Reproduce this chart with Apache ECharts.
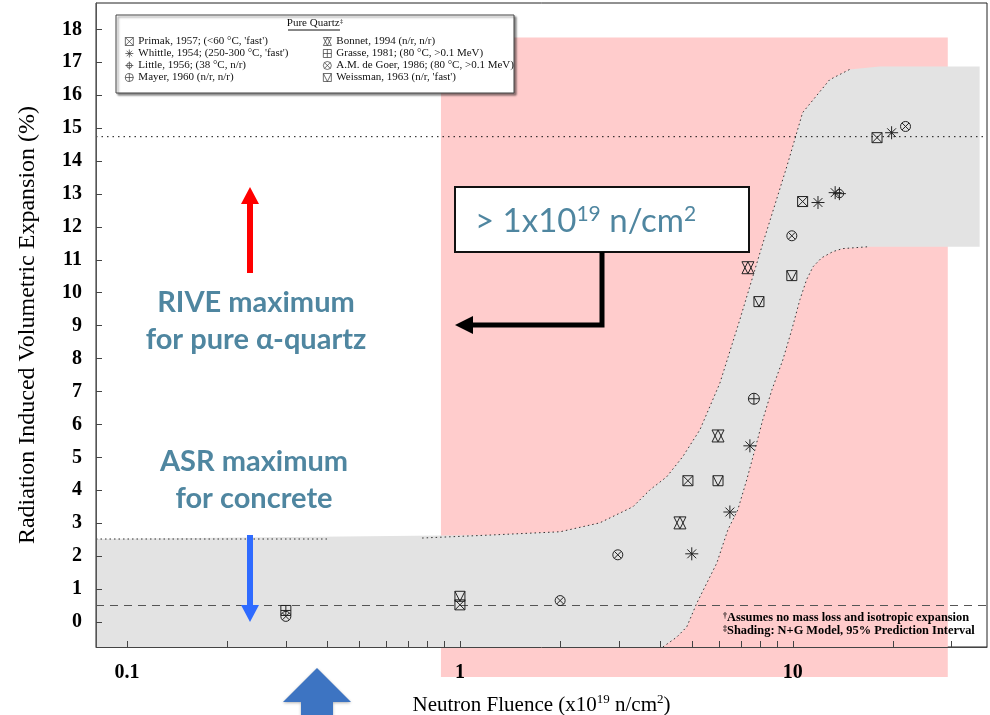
<!DOCTYPE html>
<html><head><meta charset="utf-8">
<script src="https://cdn.jsdelivr.net/npm/echarts@6/dist/echarts.min.js"></script>
<style>html,body{margin:0;padding:0;background:#fff}#c{width:990px;height:715px}</style>
</head><body><div id="c"></div>
<script>
// ---------- axes ----------
const xRange = [0.0807, 38.3];
const yRange = [-0.76, 18.8];
const xTickValues = [0.1,0.2,0.3,0.4,0.5,0.6,0.7,0.8,0.9,1,2,3,4,5,6,7,8,9,10,20,30];
const xLabelValues = [0.1,1,10];
const yTickValues = [0,1,2,3,4,5,6,7,8,9,10,11,12,13,14,15,16,17,18];

// ---------- data (x = fluence x1e19 n/cm2, y = expansion %) ----------
const primak   = [[1,0.52],[4.84,4.29],[10.7,12.77],[17.9,14.71]];
const whittle  = [[4.97,2.07],[6.47,3.34],[7.43,5.35],[11.9,12.74],[13.4,13.04],[19.8,14.86]];
const little   = [[13.8,13.01]];
const mayer    = [[7.64,6.78]];
const bonnet   = [[4.58,3.01],[5.96,5.65],[7.33,10.76]];
const grasse   = [[0.3,0.35]];
const degoer   = [[0.3,0.17],[2.0,0.65],[2.98,2.04],[9.93,11.73],[21.8,15.05]];
const weissman = [[1,0.78],[5.96,4.29],[7.91,9.73],[9.93,10.52]];

const seriesNames = [
  "Primak, 1957; (<60 °C, 'fast')",
  "Whittle, 1954; (250-300 °C, 'fast')",
  "Little, 1956; (38 °C, n/r)",
  "Mayer, 1960 (n/r, n/r)",
  "Bonnet, 1994 (n/r, n/r)",
  "Grasse, 1981; (80 °C, >0.1 MeV)",
  "A.M. de Goer, 1986; (80 °C, >0.1 MeV)",
  "Weissman, 1963 (n/r, 'fast')"
];

// prediction band (N+G model, 95% PI)
const bandUpperX = [0.0807,1.23,2.0,2.63,3.31,3.72,4.18,4.67,5.26,6.04,6.93,8.07,9.59,10.7,12.9,14.8,18.2,36.4];
const bandUpperY = [2.52,2.64,2.74,3.01,3.50,4.01,4.41,5.02,5.84,7.26,9.18,11.40,13.83,15.47,16.47,16.78,16.87,16.87];
const bandLowerX = [0.0807,4.07,4.48,4.80,5.15,5.52,5.91,6.38,6.83,7.27,7.69,8.12,8.65,9.33,9.93,10.5,11.0,11.5,12.2,13.2,14.1,17.0,36.4];
const bandLowerY = [-0.76,-0.76,-0.46,-0.15,0.58,1.19,1.79,2.80,3.40,4.32,5.23,6.14,7.05,7.96,8.88,9.79,10.40,10.79,11.06,11.25,11.34,11.40,11.40];

// shaded fluence region (> 1e19)
const pinkX = [0.877, 29.2];
const pinkY = [-1.67, 17.75];

// reference lines
const riveMax = 14.74;
const asrMax = 0.5;

// ---------- symbols ----------
const sym = {
  primak:  'path://M0,0H10V10H0Z M0,0L10,10 M10,0L0,10',
  whittle: 'path://M5,0V10 M0,5H10 M1.6,1.6L8.4,8.4 M8.4,1.6L1.6,8.4',
  little:  'path://M1.8,5A3.2,3.2 0 1 1 8.2,5A3.2,3.2 0 1 1 1.8,5Z M5,0V10 M0,5H10',
  mayer:   'path://M0,5A5,5 0 1 1 10,5A5,5 0 1 1 0,5Z M5,0V10 M0,5H10',
  bonnet:  'path://M0,0H10 M0,10H10 M0,0L5,10L10,0 M0,10L5,0L10,10',
  grasse:  'path://M0,0H10V10H0Z M5,0V10 M0,5H10',
  degoer:  'path://M0,5A5,5 0 1 1 10,5A5,5 0 1 1 0,5Z M1.5,1.5L8.5,8.5 M8.5,1.5L1.5,8.5',
  weissman:'path://M0,0H10V10H0Z M0,0L5,10L10,0'
};

function scat(name, data, symbol, size) {
  return {
    type: 'scatter', name, data, symbol, symbolSize: size, symbolKeepAspect: true,
    itemStyle: { color: 'rgba(0,0,0,0)', borderColor: '#222', borderWidth: 1, opacity: 1 },
    z: 5, silent: true
  };
}
function hline(y, type, color) {
  return { type: 'line', data: [[xRange[0], y], [xRange[1], y]], showSymbol: false, symbol: 'none',
    lineStyle: { type, color, width: 1 }, z: 4, silent: true };
}

const chart = echarts.init(document.getElementById('c'));
const serif = 'Liberation Serif';
const teal = '#4F86A0';

const legendCommon = {
  orient: 'vertical', itemWidth: 8, itemHeight: 8, itemGap: 1, padding: 0, selectedMode: false,
  itemStyle: { color: 'rgba(0,0,0,0)', borderColor: '#333', borderWidth: 0.7 },
  textStyle: { fontFamily: serif, fontSize: 11, color: '#111', lineHeight: 11 }, z: 12
};

chart.setOption({
  animation: false,
  grid: { left: 96, right: 3, top: 3, bottom: 68, show: true, borderColor: '#222', borderWidth: 1,
    backgroundColor: 'transparent', containLabel: false, outerBoundsMode: 'none' },
  xAxis: {
    type: 'log', logBase: 10, min: xRange[0], max: xRange[1], z: 8,
    axisLine: { show: true, onZero: false, lineStyle: { color: '#444', width: 1 } },
    axisTick: { show: true, inside: true, length: 6, customValues: xTickValues, lineStyle: { color: '#444' } },
    axisLabel: { customValues: xLabelValues, fontFamily: serif, fontWeight: 'bold', fontSize: 20, color: '#000', margin: 16,
      formatter: v => String(+(+v).toPrecision(6)) },
    splitLine: { show: false }, minorTick: { show: false },
    name: 'Neutron Fluence (x10{sup|19} n/cm{sup|2})', nameLocation: 'middle', nameGap: 46,
    nameTextStyle: { fontFamily: serif, fontSize: 21, color: '#000', lineHeight: 24,
      rich: { sup: { fontFamily: serif, fontSize: 13, verticalAlign: 'top', lineHeight: 24, padding: [0,0,10,0] } } }
  },
  yAxis: {
    type: 'value', min: yRange[0], max: yRange[1], z: 8,
    axisLine: { show: true, lineStyle: { color: '#555', width: 1 } },
    axisTick: { show: true, inside: true, length: 6, customValues: yTickValues, lineStyle: { color: '#444' } },
    axisLabel: { customValues: yTickValues, fontFamily: serif, fontWeight: 'bold', fontSize: 20, color: '#000', margin: 14 },
    splitLine: { show: false },
    name: 'Radiation Induced Volumetric Expansion (%)', nameLocation: 'middle', nameGap: 56, nameRotate: 90,
    nameTextStyle: { fontFamily: serif, fontSize: 24, color: '#000' }
  },
  legend: [
    Object.assign({}, legendCommon, { data: seriesNames.slice(0, 4), left: 125, top: 36 }),
    Object.assign({}, legendCommon, { data: seriesNames.slice(4), left: 323, top: 36 })
  ],
  series: [
    { type: 'custom', silent: true, z: 1, clip: false, encode: { x: [0, 2], y: [1, 3] },
      data: [[pinkX[0], pinkY[0], pinkX[1], pinkY[1]]],
      renderItem: (p, api) => {
        const a = api.coord([api.value(0), api.value(1)]);
        const b = api.coord([api.value(2), api.value(3)]);
        return { type: 'rect', shape: { x: a[0], y: b[1], width: b[0] - a[0], height: a[1] - b[1] }, style: { fill: '#FFCCCC' } };
      } },
    { type: 'custom', silent: true, z: 2, data: [[1, 1]],
      renderItem: (p, api) => {
        const pts = [];
        for (let i = 0; i < bandUpperX.length; i++) pts.push(api.coord([bandUpperX[i], bandUpperY[i]]));
        for (let i = bandLowerX.length - 1; i >= 0; i--) pts.push(api.coord([bandLowerX[i], bandLowerY[i]]));
        return { type: 'polygon', shape: { points: pts }, style: { fill: '#E3E3E3' } };
      } },
    { type: 'line', silent: true, z: 3, symbol: 'none', connectNulls: false,
      data: [[bandUpperX[0], bandUpperY[0]], [0.399, bandUpperY[0]], '-', [0.77, 2.55]].concat(
        bandUpperX.slice(1, 16).map((x, i) => [x, bandUpperY[i + 1]])),
      lineStyle: { type: [1.5, 3], color: '#333', width: 1 } },
    { type: 'line', silent: true, z: 3, symbol: 'none',
      data: bandLowerX.slice(1, 22).map((x, i) => [x, bandLowerY[i + 1]]),
      lineStyle: { type: [1.5, 3], color: '#333', width: 1 } },
    hline(riveMax, [1.5, 4], '#111'),
    hline(asrMax, [8, 6], '#555'),
    scat(seriesNames[0], primak, sym.primak, 10),
    scat(seriesNames[1], whittle, sym.whittle, 13),
    scat(seriesNames[2], little, sym.little, 13),
    scat(seriesNames[3], mayer, sym.mayer, 11),
    scat(seriesNames[4], bonnet, sym.bonnet, 12),
    scat(seriesNames[5], grasse, sym.grasse, 10),
    scat(seriesNames[6], degoer, sym.degoer, 10),
    scat(seriesNames[7], weissman, sym.weissman, 10)
  ],
  graphic: [
    // legend frame
    { type: 'rect', z: 10, shape: { x: 116, y: 15, width: 398, height: 78 },
      style: { fill: '#fff', stroke: '#444', lineWidth: 1, shadowColor: 'rgba(0,0,0,0.45)', shadowOffsetX: 2, shadowOffsetY: 2, shadowBlur: 2 } },
    { type: 'text', z: 11, style: { text: 'Pure Quartz{s|‡}', x: 315, y: 23, align: 'center', verticalAlign: 'middle',
      fontFamily: serif, fontSize: 11, fill: '#111', rich: { s: { fontSize: 7, verticalAlign: 'top', fontFamily: serif } } } },
    { type: 'line', z: 11, shape: { x1: 288, y1: 30, x2: 340, y2: 30 }, style: { stroke: '#111', lineWidth: 1 } },
    // RIVE text + red arrow
    { type: 'text', z: 10, style: { text: 'RIVE maximum\nfor pure α-quartz', x: 256, y: 321, align: 'center', verticalAlign: 'middle',
      font: 'bold 29px Lato', fill: teal, lineHeight: 37 } },
    { type: 'polygon', z: 10, shape: { points: [[250,187],[259,204],[253,204],[253,273],[247,273],[247,204],[241,204]] }, style: { fill: '#FF0000' } },
    // ASR text + blue arrow
    { type: 'text', z: 10, style: { text: 'ASR maximum\nfor concrete', x: 254, y: 480, align: 'center', verticalAlign: 'middle',
      font: 'bold 29px Lato', fill: teal, lineHeight: 37 } },
    { type: 'polygon', z: 10, shape: { points: [[247,535],[253,535],[253,605],[259,605],[250,622],[241,605],[247,605]] }, style: { fill: '#2F6BFF' } },
    // big blue arrow at bottom
    { type: 'polygon', z: 10, shape: { points: [[317,668],[351,702],[333,702],[333,716],[301,716],[301,702],[283,702]] },
      style: { fill: '#3D74C2', shadowColor: 'rgba(0,0,0,0.3)', shadowBlur: 3, shadowOffsetY: 1 } },
    // fluence box
    { type: 'rect', z: 10, shape: { x: 455, y: 187, width: 294, height: 65 }, style: { fill: '#fff', stroke: '#111', lineWidth: 2 } },
    { type: 'text', z: 11, style: { text: '> 1x10{s|19} n/cm{s|2}', x: 475, y: 221, align: 'left', verticalAlign: 'middle',
      font: '33px Lato', fill: teal, rich: { s: { font: '21px Lato', fill: teal, verticalAlign: 'top', padding: [0,0,14,0] } } } },
    { type: 'polyline', z: 10, shape: { points: [[602,252],[602,325],[470,325]] }, style: { stroke: '#000', lineWidth: 5, fill: null } },
    { type: 'polygon', z: 10, shape: { points: [[455,325],[473,316],[473,334]] }, style: { fill: '#000' } },
    // footnotes
    { type: 'text', z: 10, style: { text: '{s|†}Assumes no mass loss and isotropic expansion', x: 723, y: 618, align: 'left', verticalAlign: 'middle',
      fontFamily: serif, fontWeight: 'bold', fontSize: 12.4, fill: '#000', rich: { s: { fontSize: 8, verticalAlign: 'top', fontFamily: serif, fontWeight: 'bold' } } } },
    { type: 'text', z: 10, style: { text: '{s|‡}Shading: N+G Model, 95% Prediction Interval', x: 723, y: 631, align: 'left', verticalAlign: 'middle',
      fontFamily: serif, fontWeight: 'bold', fontSize: 12.4, fill: '#000', rich: { s: { fontSize: 8, verticalAlign: 'top', fontFamily: serif, fontWeight: 'bold' } } } }
  ]
});
</script></body></html>
